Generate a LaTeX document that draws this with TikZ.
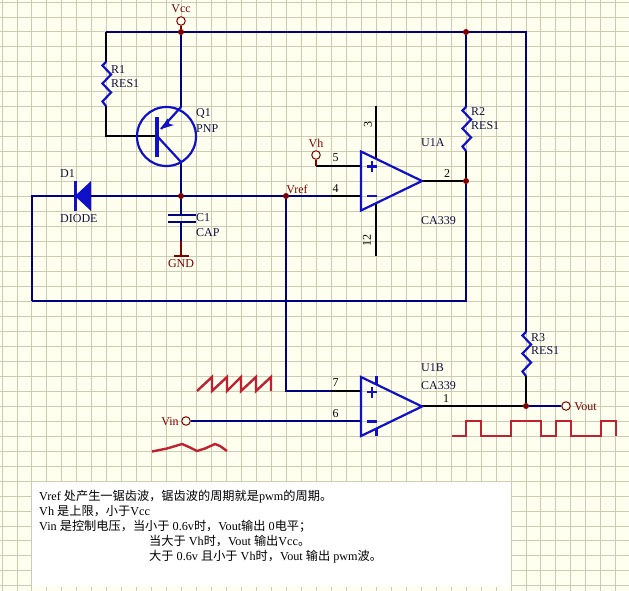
\documentclass[tikz,border=0pt]{standalone}
\usepackage{fontspec}
\setmainfont{Liberation Serif}
\newfontfamily\cjkfont{Noto Sans CJK SC}
\newcommand{\cn}[1]{{\cjkfont #1}}
\definecolor{sheet}{HTML}{FFFFF0}
\definecolor{gridln}{HTML}{CCCCB4}
\definecolor{netblue}{HTML}{000080}
\definecolor{partblue}{HTML}{1010C8}
\definecolor{powerred}{HTML}{800000}
\definecolor{wavered}{HTML}{C02030}
\definecolor{lbltext}{HTML}{101040}
\usetikzlibrary{arrows.meta,backgrounds}
\tikzset{%
  % Specifications for style of lines:
      net/.style = {draw=netblue, line width=2.2pt},
      lead/.style = {draw=black, line width=1.9pt},
      part/.style = {draw=partblue, line width=2.2pt},
      powerlead/.style = {draw=powerred, line width=1.9pt},
      wave/.style = {draw=wavered, line width=2.4pt},
  % Specifications for style of nodes:
      dot/.style = {circle, fill=powerred, inner sep=0pt, minimum size=6pt},
      port/.style = {circle, draw=powerred, fill=sheet, line width=1pt, inner sep=0pt, minimum size=8.5pt},
      partlbl/.style = {anchor=west, inner sep=0pt, text=lbltext, font=\fontsize{12}{14}\selectfont},
      pinlbl/.style = {inner sep=0pt, text=black, font=\fontsize{12}{14}\selectfont},
      powerlbl/.style = {inner sep=0pt, text=powerred, font=\fontsize{12}{14}\selectfont},
      noteline/.style = {anchor=west, inner sep=0pt, text=black, font=\fontsize{12.2}{14}\selectfont},
  % Parts:
      resistor/.pic = {
        \draw[part, line join=miter] (0,0) -- (-3.5,3.5) -- (5,12.5) -- (-3.5,21.5) -- (5,30.5) -- (-3.5,39.5) -- (0,44);
      },
      opamp/.pic = {
        \draw[part, line join=miter] (0,-29.5) -- (61,0) -- (0,29.5) -- cycle;
        \draw[partblue, line width=2.8pt] (6,-14.5) -- (16,-14.5) (11,-20) -- (11,-9);
        \draw[partblue, line width=2.8pt] (6,15) -- (16,15);
      },
}
\begin{document}
\begin{tikzpicture}[x=1pt, y=-1pt, node distance=12pt]
  \useasboundingbox (0,0) rectangle (629,591);

  % Specification of nodes (position, etc.)
  \node (vccpin)	[port] at (181,21) {};
  \node (vcctop)	[dot] at (181,32) {};
  \node (r2top)		[dot] at (466,32) {};
  \node (cnode)		[dot] at (181,196) {};
  \node (vrefdot)	[dot] at (286,196) {};
  \node (u1aout)	[dot] at (466,181) {};
  \node (voutdot)	[dot] at (526,406) {};
  \node (vhpin)		[port] at (316,155) {};
  \node (vinpin)	[port] at (186,421) {};
  \node (voutpin)	[port] at (566,406) {};

  \coordinate (r1corner)	at (106,32);
  \coordinate (r1a)			at (106,62);
  \coordinate (r1b)			at (106,106);
  \coordinate (basecorner)	at (106,136);
  \coordinate (base)		at (157,136);
  \coordinate (emit)		at (181,107);
  \coordinate (coll)		at (181,162);
  \coordinate (dleft)		at (32,196);
  \coordinate (dtip)		at (75,196);
  \coordinate (dback)		at (91,196);
  \coordinate (capa)		at (181,215);
  \coordinate (capb)		at (181,222);
  \coordinate (gndstem)		at (181,241);
  \coordinate (gndbar)		at (181,256);
  \coordinate (loopa)		at (32,301);
  \coordinate (loopb)		at (466,301);
  \coordinate (r2a)			at (466,107);
  \coordinate (r2b)			at (466,151);
  \coordinate (topright)	at (526,32);
  \coordinate (r3a)			at (526,332);
  \coordinate (r3b)			at (526,376);
  \coordinate (a4)			at (331,196);
  \coordinate (ainm)		at (361,196);
  \coordinate (vhcorner)	at (316,166);
  \coordinate (ainp)		at (361,166);
  \coordinate (atip)		at (422,181);
  \coordinate (p3a)			at (376,106);
  \coordinate (p3b)			at (376,158);
  \coordinate (p12a)		at (376,204);
  \coordinate (p12b)		at (376,256);
  \coordinate (vrefcorner)	at (286,391);
  \coordinate (b7)			at (331,391);
  \coordinate (binp)		at (361,391);
  \coordinate (b6)			at (331,421);
  \coordinate (binm)		at (361,421);
  \coordinate (btip)		at (422,406);
  \coordinate (bvcca)		at (376.5,376);
  \coordinate (bvccb)		at (376.5,384);
  \coordinate (bgnda)		at (376.5,428);
  \coordinate (bgndb)		at (376.5,436);

  \begin{scope}[on background layer]
  % Sheet grid
  \fill[sheet] (0,0) rectangle (629,591);
  \foreach \k in {0,...,41} {
    \draw[gridln, line width=0.9pt] ({2+14.97*\k},0) -- ({2+14.97*\k},591);
  }
  \foreach \k in {0,...,39} {
    \draw[gridln, line width=0.9pt] (0,{2+14.97*\k}) -- (629,{2+14.97*\k});
  }

  % Nets
  \draw[net]		(r1corner) -- (topright) -- (r3a);
  \draw[net]		(vcctop) -- (emit);
  \draw[net]		(r2top) -- (r2a);
  \draw[net]		(coll) -- (cnode);
  \draw[net]		(cnode) -- (capa);
  \draw[net]		(capb) -- (gndstem);
  \draw[net]		(loopa) -- (dleft) -- (dtip);
  \draw[net]		(dback) -- (a4);
  \draw[net]		(loopa) -- (loopb) -- (u1aout);
  \draw[net]		(vrefdot) -- (vrefcorner) -- (b7);
  \draw[net]		(vinpin) -- (binm);
  \draw[net]		(voutdot) -- (voutpin);
  \end{scope}

  % Leads
  \draw[lead]		(r1corner) -- (r1a);
  \draw[lead]		(r1b) -- (basecorner) -- (base);
  \draw[lead]		(r2b) -- (u1aout);
  \draw[lead]		(r3b) -- (voutdot);
  \draw[lead]		(a4) -- (ainm);
  \draw[lead]		(b7) -- (binp);
  \draw[lead]		(vhcorner) -- (ainp);
  \draw[lead]		(atip) -- (u1aout);
  \draw[lead]		(btip) -- (voutdot);
  \draw[lead]		(p3a) -- (p3b);
  \draw[lead]		(p12a) -- (p12b);
  \draw[powerlead]	(vccpin) -- (vcctop);
  \draw[powerlead]	(vhpin) -- (vhcorner);
  \draw[powerlead]	(gndstem) -- (gndbar);
  \draw[powerlead]	([xshift=-7pt]gndbar) -- ([xshift=8pt]gndbar);

  % Parts
  \pic at (r1a) {resistor};
  \pic at (r2a) {resistor};
  \pic at (r3a) {resistor};
  \pic at (361,181) {opamp};
  \pic at (361,406.5) {opamp};
  \draw[part]		(bvcca) -- (bvccb);
  \draw[part]		(bgnda) -- (bgndb);
  % Q1
  \draw[part]		(166.5,136.5) circle (29.5);
  \draw[partblue, line width=4.5pt] (157,117) -- (157,157);
  \draw[part]		(base) -- (coll);
  \draw[part]		(emit) -- (161,129);
  \fill[partblue]	(161,129) -- (167.5,118.5) -- (169.5,124) -- (174,125) -- cycle;
  % D1
  \fill[partblue]	(dtip) -- (91,181) -- (91,211) -- cycle;
  \draw[partblue, line width=3pt] (75,181) -- (75,211);
  % C1
  \draw[netblue, line width=2.2pt] (168,215) -- (196,215);
  \draw[netblue, line width=2.2pt] (168,222) -- (196,222);

  % Waveforms
  \draw[wave, line join=miter] (197,391) -- (212,377) -- (212,391) -- (227,377) -- (227,391)
    -- (241,377) -- (241,391) -- (256,377) -- (256,391) -- (271,377) -- (271,391);
  \draw[wave, line join=round] (152,451.5) -- (167,448.5) -- (182,444) -- (189,447) -- (197,451)
    -- (205,448.5) -- (215,444) -- (220,446) -- (227,451);
  \draw[wave, line join=miter] (452,436) -- (466,436) -- (466,421) -- (481,421) -- (481,436)
    -- (511,436) -- (511,421) -- (541,421) -- (541,436) -- (556,436) -- (556,421) -- (571,421)
    -- (571,436) -- (601,436) -- (601,421) -- (616,421) -- (616,436);

  % Labels
  \node (vcclbl)	[powerlbl, above of=vccpin] {Vcc};
  \node (gndlbl)	[powerlbl] at (181,263.5) {GND};
  \node (vhlbl)		[powerlbl, above of=vhpin] {Vh};
  \node (vreflbl)	[powerlbl] at (297,189) {Vref};
  \node (vinlbl)	[powerlbl] at (170,421.5) {Vin};
  \node (voutlbl)	[powerlbl] at (585.5,407) {Vout};
  \node (r1ref)		[partlbl] at (111,70) {R1};
  \node (r1val)		[partlbl] at (111,84) {RES1};
  \node (q1ref)		[partlbl] at (196,114) {Q1};
  \node (q1val)		[partlbl] at (196,128.5) {PNP};
  \node (d1ref)		[partlbl] at (60,173.5) {D1};
  \node (d1val)		[partlbl] at (60,219) {DIODE};
  \node (c1ref)		[partlbl] at (196,218) {C1};
  \node (c1val)		[partlbl] at (196,232.5) {CAP};
  \node (r2ref)		[partlbl] at (471,112) {R2};
  \node (r2val)		[partlbl] at (471,126) {RES1};
  \node (r3ref)		[partlbl] at (531,337.5) {R3};
  \node (r3val)		[partlbl] at (531,351) {RES1};
  \node (u1aref)	[partlbl] at (421,143) {U1A};
  \node (u1aval)	[partlbl] at (421,221) {CA339};
  \node (u1bref)	[partlbl] at (421,367.5) {U1B};
  \node (u1bval)	[partlbl] at (421,385.5) {CA339};
  \node (pin5)		[pinlbl] at (335.5,158) {5};
  \node (pin4)		[pinlbl] at (335.5,188.5) {4};
  \node (pin2)		[pinlbl] at (447,174) {2};
  \node (pin3)		[pinlbl, rotate=90] at (368,125) {3};
  \node (pin12)		[pinlbl, rotate=90] at (367,240) {12};
  \node (pin7)		[pinlbl] at (335.5,383) {7};
  \node (pin6)		[pinlbl] at (335.5,414) {6};
  \node (pin1)		[pinlbl] at (446,399) {1};

  % Note
  \fill[white]		(32,482) rectangle (511,587);
  \node (note1)		[noteline] at (39,497) {Vref \cn{处产生一锯齿波，锯齿波的周期就是}pwm\cn{的周期。}};
  \node (note2)		[noteline] at (39,511.5) {Vh \cn{是上限，小于}Vcc};
  \node (note3)		[noteline] at (39,526.5) {Vin \cn{是控制电压，当小于} 0.6v\cn{时，}Vout\cn{输出} 0\cn{电平；}};
  \node (note4)		[noteline] at (149,541.5) {\cn{当大于} Vh\cn{时，}Vout \cn{输出}Vcc\cn{。}};
  \node (note5)		[noteline] at (149,556.5) {\cn{大于} 0.6v \cn{且小于} Vh\cn{时，}Vout \cn{输出} pwm\cn{波。}};
\end{tikzpicture}
\end{document}
